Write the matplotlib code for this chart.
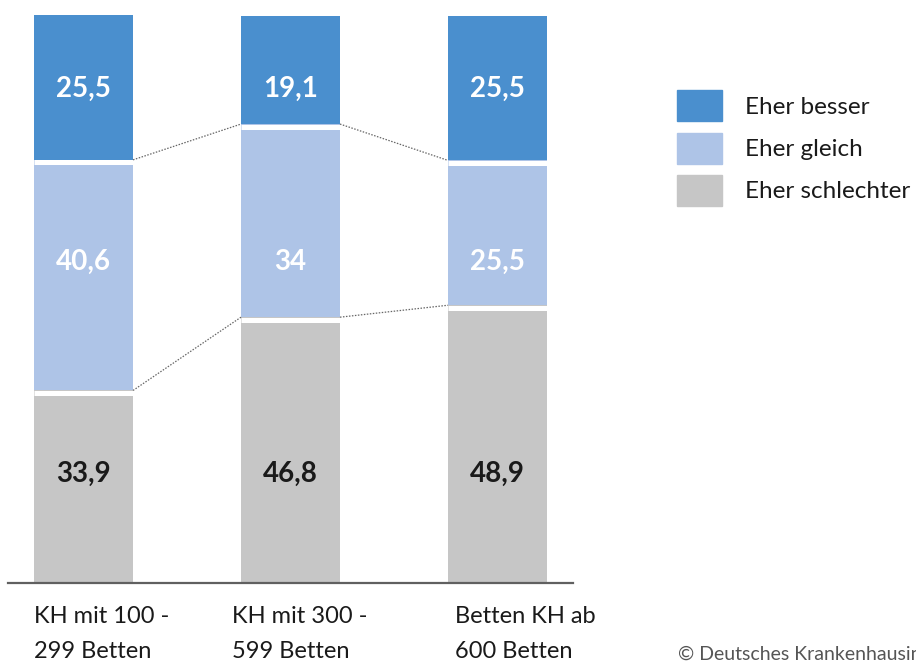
import matplotlib
matplotlib.use("Agg")
from matplotlib import pyplot as plt
from matplotlib.patches import Rectangle
import numpy as np

categories = ["KH mit 100 -\n299 Betten", "KH mit 300 -\n599 Betten", "Betten KH ab\n600 Betten"]
series = ["Eher besser", "Eher gleich", "Eher schlechter"]
schlechter = [33.9, 46.8, 48.9]
gleich = [40.6, 34.0, 25.5]
besser = [25.5, 19.1, 25.5]
gleich_labels = ["40,6", "34", "25,5"]
besser_labels = ["25,5", "19,1", "25,5"]
schlechter_labels = ["33,9", "46,8", "48,9"]

c_besser = "#4a8fce"
c_gleich = "#aec4e7"
c_schlecht = "#c6c6c6"
colors = [c_besser, c_gleich, c_schlecht]

plt.rcParams["font.family"] = ["Lato", "DejaVu Sans"]

fig = plt.figure(figsize=(9.16, 6.62), dpi=100)
ax = fig.add_axes([8 / 916, 1 - 583 / 662, 565 / 916, 568 / 662])

x = np.arange(len(categories))
w = 99 / 207
ax.bar(x, schlechter, width=w, color=c_schlecht, linewidth=0)
ax.bar(x, gleich, bottom=schlechter, width=w, color=c_gleich, linewidth=0)
bottom2 = np.array(schlechter) + np.array(gleich)
ax.bar(x, besser, bottom=bottom2, width=w, color=c_besser, linewidth=0)

# white separators between segments
for lvl in (np.array(schlechter), bottom2):
    ax.hlines(lvl - 0.45, x - w / 2, x + w / 2, color="white", lw=3.6)

# dotted connectors between segment boundaries
half = w / 2
for i in range(len(x) - 1):
    for lvl in (np.array(schlechter), bottom2):
        ax.plot([x[i] + half, x[i + 1] - half], [lvl[i], lvl[i + 1]],
                ls=(0, (1.2, 1.2)), color="#666666", lw=0.9)

# value labels at fixed heights
for i in x:
    ax.text(i, 87.0, besser_labels[i], ha="center", va="center",
            color="white", fontsize=20, fontweight="bold")
    ax.text(i, 56.6, gleich_labels[i], ha="center", va="center",
            color="white", fontsize=20, fontweight="bold")
    ax.text(i, 19.3, schlechter_labels[i], ha="center", va="center",
            color="#1a1a1a", fontsize=20, fontweight="bold")

ax.set_xlim(-0.365, 2.365)
ax.set_ylim(0, 100)
for s in ("top", "right", "left"):
    ax.spines[s].set_visible(False)
ax.spines["bottom"].set_color("#606060")
ax.spines["bottom"].set_linewidth(1.6)
ax.set_xticks([])
ax.set_yticks([])

# category labels
label_x = [34, 232, 455]
for lx, cat in zip(label_x, categories):
    fig.text(lx / 916, 1 - 606 / 662, cat, ha="left", va="top",
             fontsize=17, color="#1a1a1a", linespacing=1.8)

# legend
for k, (name, col) in enumerate(zip(series, colors)):
    top = 90 + 42.5 * k
    fig.patches.append(Rectangle((677 / 916, 1 - (top + 31) / 662), 45 / 916, 31 / 662,
                                 transform=fig.transFigure, color=col))
    fig.text(745 / 916, 1 - (top + 17) / 662, name, ha="left", va="center",
             fontsize=17.5, color="#1a1a1a")

fig.text(678 / 916, 1 - 663 / 662, "© Deutsches Krankenhausinstitut",
         ha="left", va="bottom", fontsize=14, color="#555555")

fig.savefig("out.png", dpi=100)
